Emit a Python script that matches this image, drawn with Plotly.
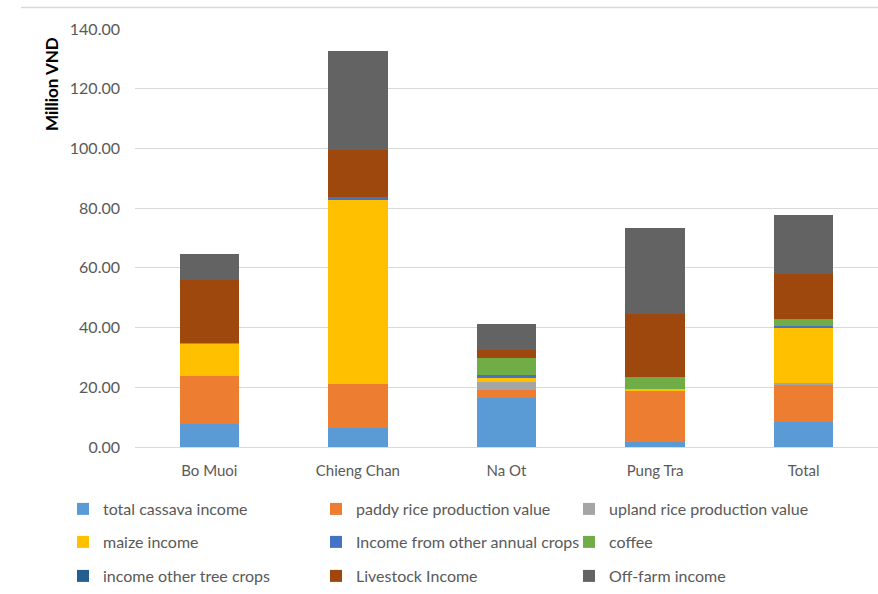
import plotly.graph_objects as go

# Household income by commune (million VND)
villages = ["Bo Muoi", "Chieng Chan", "Na Ot", "Pung Tra", "Total"]

cassava = [7.6, 6.5, 16.5, 1.7, 8.4]
paddy_rice = [16.1, 14.7, 2.5, 17.3, 12.3]
upland_rice = [0.0, 0.0, 2.8, 0.0, 0.7]
maize = [10.9, 61.8, 1.3, 0.3, 18.6]
other_annual = [0.0, 0.6, 0.9, 0.0, 0.4]
coffee = [0.2, 0.0, 5.9, 4.0, 2.4]
other_tree = [0.0, 0.0, 0.0, 0.0, 0.0]
livestock = [21.0, 15.8, 2.5, 21.4, 15.1]
off_farm = [8.8, 33.3, 8.7, 28.8, 19.9]

y_ticks = [0, 20, 40, 60, 80, 100, 120, 140]

series = [
    ("total cassava income", cassava, "#5B9BD5", "legend"),
    ("paddy rice production value", paddy_rice, "#ED7D31", "legend"),
    ("upland rice production value", upland_rice, "#A5A5A5", "legend"),
    ("maize income", maize, "#FFC000", "legend2"),
    ("Income from other annual crops", other_annual, "#4472C4", "legend2"),
    ("coffee", coffee, "#70AD47", "legend2"),
    ("income other tree crops", other_tree, "#255E91", "legend3"),
    ("Livestock Income", livestock, "#9E480E", "legend3"),
    ("Off-farm income", off_farm, "#636363", "legend3"),
]

FONT = "Lato"
GREY_TEXT = "#595959"

fig = go.Figure()
for name, values, color, leg in series:
    fig.add_trace(go.Bar(
        x=villages, y=values, name=name,
        marker=dict(color=color, line=dict(width=0)),
        legend=leg,
    ))

plot_top, plot_bottom, plot_left, W, H = 29, 447, 135, 878, 594
plot_h = plot_bottom - plot_top
plot_w = W - plot_left


def py(px):
    return (plot_bottom - px) / plot_h


def px_x(px):
    return (px - plot_left) / plot_w


# each legend entry takes entrywidth + 45 px (symbol area and gap)
legend_common = dict(
    orientation="h", xanchor="left", yanchor="middle",
    x=px_x(63), entrywidth=208, entrywidthmode="pixels",
    font=dict(family=FONT, size=16, color=GREY_TEXT),
    bgcolor="rgba(0,0,0,0)", traceorder="normal",
)

fig.update_layout(
    width=W, height=H,
    margin=dict(l=plot_left, r=0, t=plot_top, b=H - plot_bottom,
                autoexpand=False),
    paper_bgcolor="white", plot_bgcolor="white",
    barmode="stack", bargap=0.6,
    font=dict(family=FONT, size=15, color=GREY_TEXT),
    legend=dict(legend_common, y=py(509)),
    legend2=dict(legend_common, y=py(542)),
    legend3=dict(legend_common, y=py(576)),
    xaxis=dict(
        showgrid=False, showline=False, zeroline=False,
        ticks="", ticklabelstandoff=13,
        tickfont=dict(family=FONT, size=15, color=GREY_TEXT),
    ),
    yaxis=dict(
        range=[0, 140], tickvals=y_ticks, tickformat=".2f",
        showgrid=True, gridcolor="#D9D9D9", gridwidth=1,
        zeroline=True, zerolinecolor="#D9D9D9", zerolinewidth=1,
        showline=False, ticks="", ticklabelstandoff=14,
        tickfont=dict(family=FONT, size=16, color=GREY_TEXT),
    ),
    annotations=[dict(
        text="<b>Million VND</b>", textangle=-90,
        xref="paper", yref="paper", x=px_x(52), y=py(84),
        xanchor="center", yanchor="middle", showarrow=False,
        font=dict(family=FONT, size=17, color="black"),
    )],
    shapes=[dict(
        type="line", xref="paper", yref="paper",
        x0=px_x(21), x1=1.0, y0=py(7.5), y1=py(7.5),
        line=dict(color="#D9D9D9", width=1.5),
    )],
)

fig.write_html("out.html")
